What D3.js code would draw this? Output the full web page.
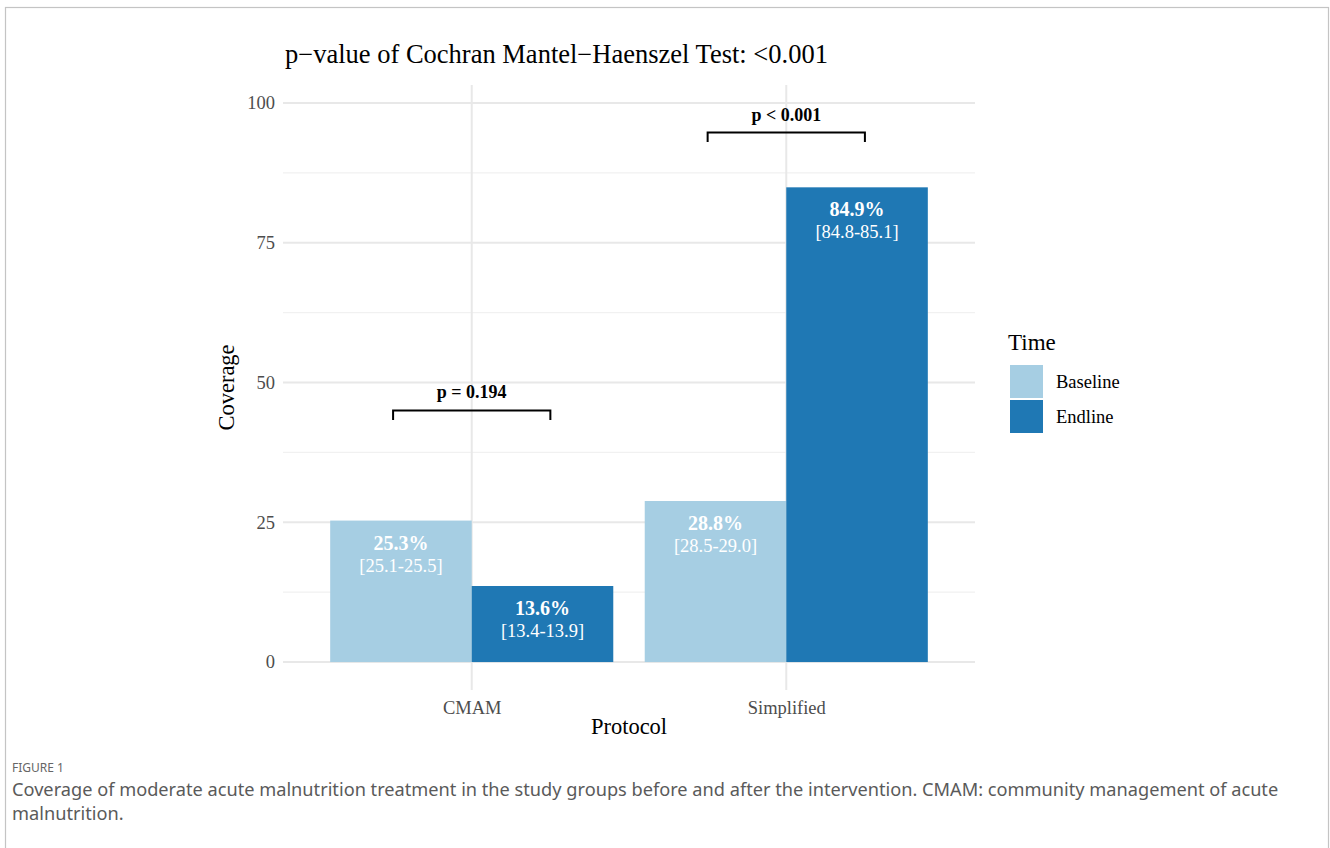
<!DOCTYPE html>
<html>
<head>
<meta charset="utf-8">
<style>
  body { margin: 0; background: #fff; }
  svg { display: block; }
</style>
</head>
<body>
<svg id="chart" width="1330" height="848"></svg>
<script src="https://cdn.jsdelivr.net/npm/d3@7"></script>
<script>
/* global d3 */

// data
const protocols = ['CMAM', 'Simplified']
const times = ['Baseline', 'Endline']
const timeColors = ['#a6cee3', '#1f78b4']
const baselineValues = [25.3, 28.8]
const endlineValues = [13.6, 84.9]
const baselineCI = ['[25.1-25.5]', '[28.5-29.0]']
const endlineCI = ['[13.4-13.9]', '[84.8-85.1]']
const pLabels = ['p = 0.194', 'p < 0.001']
const bracketTops = [45, 94.7]
const yTicks = [0, 25, 50, 75, 100]
const yMinor = [12.5, 37.5, 62.5, 87.5]

const serif = '"Liberation Serif", "DejaVu Serif", serif'
const sans = '"Noto Sans", "Open Sans", sans-serif'

const svg = d3.select('#chart')

// figure frame
svg.append('rect')
  .attr('x', 5.5).attr('y', 7.5)
  .attr('width', 1323).attr('height', 860)
  .attr('fill', 'none').attr('stroke', '#c4c4c4').attr('stroke-width', 1.2)

const panel = { left: 283, right: 975, top: 85, bottom: 690 }

const x = d3.scaleLinear().domain([0.4, 2.6]).range([panel.left, panel.right])
const y = d3.scaleLinear().domain([-5, 103.2]).range([panel.bottom, panel.top])
const dodge = d3.scaleBand().domain(times).range([-0.45, 0.45])
const color = d3.scaleOrdinal().domain(times).range(timeColors)

// grid
const grid = svg.append('g')
grid.selectAll('line.minor').data(yMinor).join('line')
  .attr('class', 'minor')
  .attr('x1', panel.left).attr('x2', panel.right)
  .attr('y1', d => y(d)).attr('y2', d => y(d))
  .attr('stroke', '#f1f1f1').attr('stroke-width', 1.3)
grid.selectAll('line.major').data(yTicks).join('line')
  .attr('class', 'major')
  .attr('x1', panel.left).attr('x2', panel.right)
  .attr('y1', d => y(d)).attr('y2', d => y(d))
  .attr('stroke', '#e8e8e8').attr('stroke-width', 2)
grid.selectAll('line.vmajor').data(protocols).join('line')
  .attr('class', 'vmajor')
  .attr('x1', (d, i) => x(i + 1)).attr('x2', (d, i) => x(i + 1))
  .attr('y1', panel.top).attr('y2', panel.bottom)
  .attr('stroke', '#e8e8e8').attr('stroke-width', 2)

// bars
const rows = []
protocols.forEach((p, i) => {
  rows.push({ p, i, time: 'Baseline', v: baselineValues[i], ci: baselineCI[i] })
  rows.push({ p, i, time: 'Endline', v: endlineValues[i], ci: endlineCI[i] })
})

function i1 (d) { return d.i + 1 }
const bx = d => x(i1(d) + dodge(d.time))
const bmid = d => x(i1(d) + dodge(d.time) + dodge.bandwidth() / 2)

svg.append('g').selectAll('rect').data(rows).join('rect')
  .attr('x', bx)
  .attr('width', x(dodge.bandwidth()) - x(0))
  .attr('y', d => y(d.v))
  .attr('height', d => y(0) - y(d.v))
  .attr('fill', d => color(d.time))

const labels = svg.append('g').attr('fill', '#fff').attr('text-anchor', 'middle')
labels.selectAll('text.pct').data(rows).join('text')
  .attr('class', 'pct')
  .attr('x', bmid)
  .attr('y', d => y(d.v) + 29)
  .attr('font-family', serif).attr('font-weight', 'bold').attr('font-size', 20)
  .text(d => d.v.toFixed(1) + '%')
labels.selectAll('text.ci').data(rows).join('text')
  .attr('class', 'ci')
  .attr('x', bmid)
  .attr('y', d => y(d.v) + 51)
  .attr('font-family', serif).attr('font-size', 18.5)
  .text(d => d.ci)

// significance brackets
const brackets = svg.append('g')
protocols.forEach((p, i) => {
  const x0 = x(i + 1 - 0.25)
  const x1 = x(i + 1 + 0.25)
  const yt = y(bracketTops[i])
  const yb = y(bracketTops[i] - 1.7)
  brackets.append('path')
    .attr('d', `M${x0},${yb}V${yt}H${x1}V${yb}`)
    .attr('fill', 'none').attr('stroke', '#000').attr('stroke-width', 2)
  brackets.append('text')
    .attr('x', x(i + 1)).attr('y', yt - 12)
    .attr('text-anchor', 'middle')
    .attr('font-family', serif).attr('font-weight', 'bold').attr('font-size', 18)
    .text(pLabels[i])
})

// axes
const yAxis = svg.append('g')
  .attr('transform', `translate(${panel.left},0)`)
  .call(d3.axisLeft(y).tickValues(yTicks).tickSize(0).tickPadding(8))
yAxis.select('.domain').remove()
yAxis.selectAll('text')
  .attr('font-family', serif).attr('font-size', 18.5).attr('fill', '#4d4d4d')

const xAxis = svg.append('g')
  .attr('transform', `translate(0,${panel.bottom})`)
  .call(d3.axisBottom(x).tickValues([1, 2]).tickFormat((d, i) => protocols[i]).tickSize(0).tickPadding(11))
xAxis.select('.domain').remove()
xAxis.selectAll('text')
  .attr('font-family', serif).attr('font-size', 18.5).attr('fill', '#4d4d4d')

svg.append('text')
  .attr('transform', `translate(234,${(panel.top + panel.bottom) / 2}) rotate(-90)`)
  .attr('text-anchor', 'middle')
  .attr('font-family', serif).attr('font-size', 22.5)
  .text('Coverage')

svg.append('text')
  .attr('x', (panel.left + panel.right) / 2).attr('y', 734)
  .attr('text-anchor', 'middle')
  .attr('font-family', serif).attr('font-size', 22.5)
  .text('Protocol')

// title
svg.append('text')
  .attr('x', 285).attr('y', 63)
  .attr('font-family', serif).attr('font-size', 26.5)
  .text('p\u2212value of Cochran Mantel\u2212Haenszel Test: <0.001')

// legend
const legend = svg.append('g').attr('transform', 'translate(1008,0)')
legend.append('text')
  .attr('x', 0).attr('y', 350)
  .attr('font-family', serif).attr('font-size', 23)
  .text('Time')
const keys = legend.selectAll('g.key').data(times).join('g')
  .attr('class', 'key')
  .attr('transform', (d, i) => `translate(2,${365 + i * 35})`)
keys.append('rect')
  .attr('width', 33).attr('height', 33)
  .attr('fill', d => color(d))
keys.append('text')
  .attr('x', 46).attr('y', 23)
  .attr('font-family', serif).attr('font-size', 18.5)
  .text(d => d)

// caption
svg.append('text')
  .attr('x', 12).attr('y', 772)
  .attr('font-family', sans).attr('font-size', 12).attr('fill', '#666')
  .text('FIGURE 1')
const cap = svg.append('text')
  .attr('font-family', sans).attr('font-size', 18.2).attr('fill', '#5a5a5a')
cap.append('tspan').attr('x', 12).attr('y', 796)
  .text('Coverage of moderate acute malnutrition treatment in the study groups before and after the intervention. CMAM: community management of acute')
cap.append('tspan').attr('x', 12).attr('y', 820)
  .text('malnutrition.')
</script>
</body>
</html>
